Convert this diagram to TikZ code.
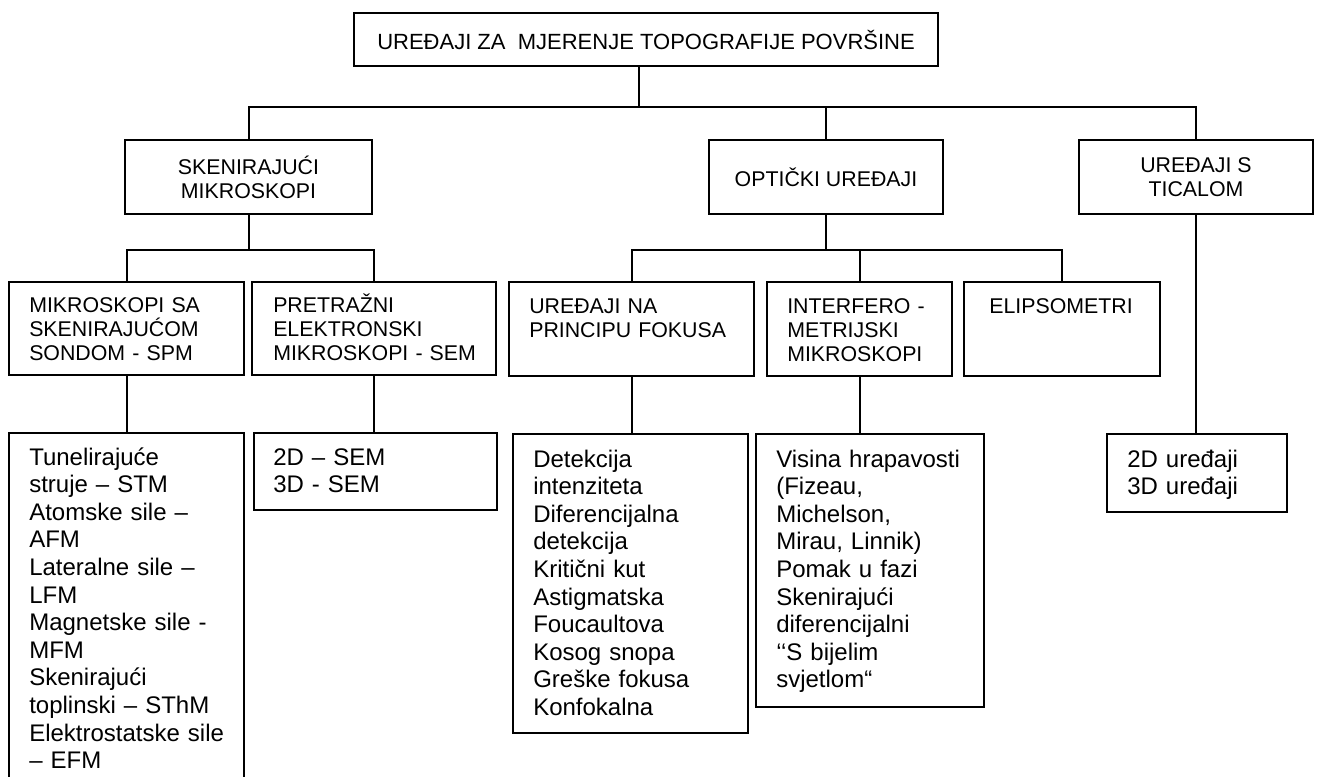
\documentclass[tikz,border=0pt]{standalone}
\usepackage{fontspec}
\setmainfont{Liberation Sans}
\newcommand\fmid{\fontsize{16}{18}\selectfont}
\newcommand\ftop{\fontsize{16.5}{19}\selectfont}
\newcommand\flow{\fontsize{18}{20.7}\selectfont}
\begin{document}
\begin{tikzpicture}[x=0.75pt,y=-0.75pt,
  box/.style={draw, line width=1.5pt, inner sep=0pt, anchor=north west},
  sz/.style 2 args={minimum width=#1*0.75pt, minimum height=#2*0.75pt},
  conn/.style={line width=1.5pt},
  midlab/.style={inner sep=0pt, anchor=base west, align=left, font=\fmid, text width=#1*0.75pt},
  lowlab/.style={inner sep=0pt, anchor=base west, align=left, font=\flow, text width=#1*0.75pt}]
\fill[white] (0,0) rectangle (1318,776);
\clip (0,0) rectangle (1318,776);
% level 1
\node[box, sz={584}{53}, font=\ftop] (top) at (353,12) {UREĐAJI ZA\ \ MJERENJE TOPOGRAFIJE POVRŠINE};
% level 2
\node[box, sz={247}{74}, font=\fmid, align=center] (sken) at (124,139) {SKENIRAJUĆI\\MIKROSKOPI};
\node[box, sz={234}{74}, font=\fmid] (opt) at (708,139) {OPTIČKI UREĐAJI};
\node[box, sz={234}{74}, font=\fmid, align=center] (tic) at (1078,139) {UREĐAJI S\\TICALOM};
% level 3
\node[box, sz={235}{93}] (spm) at (8,281) {};
\node[box, sz={244}{93}] (sem) at (251,281) {};
\node[box, sz={245}{94}] (fok) at (508,281) {};
\node[box, sz={185}{94}] (int) at (766,281) {};
\node[box, sz={196}{94}] (eli) at (963,281) {};
\node[midlab=205] (lspm) at (29,312) {MIKROSKOPI SA\\SKENIRAJUĆOM\\SONDOM - SPM};
\node[midlab=215] (lsem) at (273,312) {PRETRAŽNI\\ELEKTRONSKI\\MIKROSKOPI - SEM};
\node[midlab=215] (lfok) at (529,313) {UREĐAJI NA\\PRINCIPU FOKUSA};
\node[midlab=160] (lint) at (787,313) {INTERFERO -\\METRIJSKI\\MIKROSKOPI};
\node[inner sep=0pt, anchor=base, font=\fmid] (leli) at (1061,313) {ELIPSOMETRI};
% level 4
\node[box, sz={235}{400}] (stm) at (8,432) {};
\node[box, sz={243}{77}] (sem2) at (253,432) {};
\node[box, sz={235}{299}] (det) at (512,433) {};
\node[box, sz={228}{273}] (vis) at (755,433) {};
\node[box, sz={180}{78}] (dd) at (1106,433) {};
\node[lowlab=210] (lstm) at (29,465) {Tunelirajuće\\struje – STM\\Atomske sile –\\AFM\\Lateralne sile –\\LFM\\Magnetske sile -\\MFM\\Skenirajući\\toplinski – SThM\\Elektrostatske sile\\– EFM};
\node[lowlab=200] (lsem2) at (273,465) {2D – SEM\\3D - SEM};
\node[lowlab=205] (ldet) at (533,467) {Detekcija\\intenziteta\\Diferencijalna\\detekcija\\Kritični kut\\Astigmatska\\Foucaultova\\Kosog snopa\\Greške fokusa\\Konfokalna};
\node[lowlab=200] (lvis) at (776,467) {Visina hrapavosti\\(Fizeau,\\Michelson,\\Mirau, Linnik)\\Pomak u fazi\\Skenirajući\\diferencijalni\\‘‘S bijelim\\svjetlom“};
\node[lowlab=160] (ldd) at (1127,467) {2D uređaji\\3D uređaji};
% connectors
\coordinate (b1) at (639,107);
\coordinate (b2) at (0,250);
\draw[conn] (top.south -| b1) -- (b1);
\draw[conn] (sken.north) -- (sken.north |- b1) -- (tic.north |- b1) -- (tic.north);
\draw[conn] (opt.north) -- (opt.north |- b1);
\draw[conn] (sken.south) -- (sken.south |- b2);
\draw[conn] (spm.north) -- (spm.north |- b2) -- (sem.north |- b2) -- (sem.north);
\draw[conn] (opt.south) -- (opt.south |- b2);
\draw[conn] (fok.north) -- (fok.north |- b2) -- (eli.north |- b2) -- (eli.north);
\draw[conn] (int.north) -- (int.north |- b2);
\draw[conn] (tic.south) -- (tic.south |- dd.north);
\draw[conn] (spm.south) -- (spm.south |- stm.north);
\draw[conn] (sem.south) -- (sem.south |- sem2.north);
\draw[conn] (fok.south) -- (fok.south |- det.north);
\draw[conn] (int.south) -- (int.south |- vis.north);
\end{tikzpicture}
\end{document}
